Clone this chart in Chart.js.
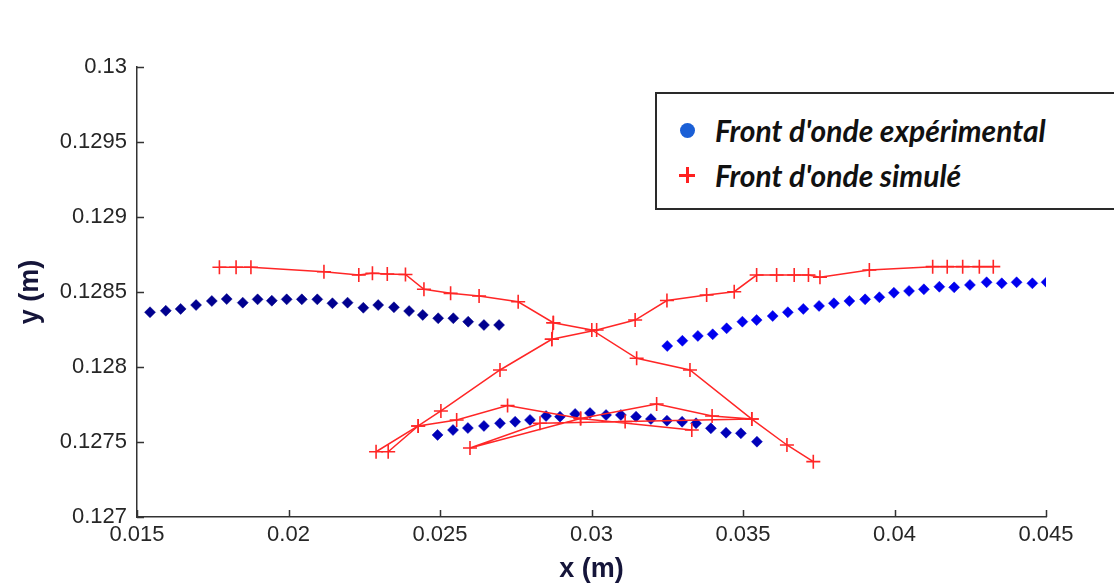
<!DOCTYPE html>
<html>
<head>
<meta charset="utf-8">
<script src="https://cdn.jsdelivr.net/npm/chart.js@4.4.1/dist/chart.umd.min.js"></script>
<style>
  html, body { margin: 0; padding: 0; background: #fff; overflow: hidden; }
  #wrap { position: relative; width: 1114px; height: 584px; }
  #legend {
    position: absolute; left: 655px; top: 92px; width: 480px; height: 114px;
    border: 2px solid #2a2a2a; background: #fff; box-sizing: content-box;
    font-family: Lato, "Open Sans", sans-serif; font-style: italic; font-weight: 700;
    font-size: 30px; color: #111;
  }
  #legend .item { position: absolute; left: 58px; white-space: nowrap; line-height: 34px; }
  #legend .dot { position: absolute; left: 23px; top: 29px; width: 15px; height: 15px; border-radius: 50%; background: #1a5fd6; }
  #legend .plus { position: absolute; left: 22px; top: 73px; width: 16px; height: 16px; }
  #legend .plus::before, #legend .plus::after { content: ''; position: absolute; background: #ff2020; }
  #legend .plus::before { left: 0; top: 7px; width: 16px; height: 2.5px; }
  #legend .plus::after { left: 7px; top: 0; width: 2.5px; height: 16px; }
</style>
</head>
<body>
<div id="wrap">
  <canvas id="chart" width="1114" height="584"></canvas>
  <div id="legend">
    <span class="dot"></span>
    <div class="item" style="top:19px">Front d'onde expérimental</div>
    <span class="plus"></span>
    <div class="item" style="top:64px">Front d'onde simulé</div>
  </div>
</div>
<script>
// axis ticks
const xTickValues = [0.015, 0.02, 0.025, 0.03, 0.035, 0.04, 0.045];
const xTickLabels = ['0.015', '0.02', '0.025', '0.03', '0.035', '0.04', '0.045'];
const yTickValues = [0.127, 0.1275, 0.128, 0.1285, 0.129, 0.1295, 0.13];
const yTickLabels = ['0.127', '0.1275', '0.128', '0.1285', '0.129', '0.1295', '0.13'];

// experimental front (blue diamonds)
const expLeftX = [0.01543, 0.01595, 0.01644, 0.01695, 0.01747, 0.01796, 0.01849, 0.01898, 0.01945, 0.01994, 0.02044, 0.02095,
                  0.02145, 0.02195, 0.02247, 0.02296, 0.02348, 0.02398, 0.02443, 0.02494, 0.02544, 0.02593, 0.02645, 0.02695];
const expLeftY = [0.128365, 0.128375, 0.128387, 0.128413, 0.128440, 0.128453, 0.128429, 0.128451, 0.128442, 0.128451, 0.128451, 0.128451,
                  0.128425, 0.128429, 0.128395, 0.128413, 0.128398, 0.128373, 0.128347, 0.128325, 0.128325, 0.128302, 0.128280, 0.128280];
const expRightX = [0.03250, 0.03300, 0.03351, 0.03400, 0.03446, 0.03498, 0.03545, 0.03598, 0.03648, 0.03699, 0.03751, 0.03800, 0.03851,
                   0.03903, 0.03950, 0.03998, 0.04048, 0.04097, 0.04148, 0.04197, 0.04249, 0.04304, 0.04354, 0.04403, 0.04455, 0.04502];
const expRightY = [0.128140, 0.128175, 0.128207, 0.128218, 0.128258, 0.128302, 0.128313, 0.128340, 0.128365, 0.128387, 0.128407, 0.128425, 0.128440,
                   0.128451, 0.128465, 0.128495, 0.128507, 0.128518, 0.128535, 0.128531, 0.128547, 0.128565, 0.128558, 0.128565, 0.128558, 0.128565];
const expBottomX = [0.02492, 0.02543, 0.02592, 0.02645, 0.02698, 0.02748, 0.02797, 0.02850, 0.02896, 0.02946, 0.02995,
                    0.03048, 0.03097, 0.03147, 0.03196, 0.03249, 0.03299, 0.03345, 0.03394, 0.03444, 0.03493, 0.03546];
const expBottomY = [0.127547, 0.127580, 0.127593, 0.127607, 0.127625, 0.127635, 0.127647, 0.127673, 0.127669, 0.127687, 0.127693,
                    0.127680, 0.127680, 0.127669, 0.127653, 0.127642, 0.127635, 0.127625, 0.127591, 0.127562, 0.127558, 0.127502];

// simulated front (red + with lines), drawn as several polylines
const simAX = [0.03732, 0.03645, 0.03529, 0.03325, 0.03149, 0.03001, 0.02874, 0.02758, 0.02629, 0.02535,
               0.02447, 0.02386, 0.02326, 0.02277, 0.02232, 0.02117, 0.01876, 0.01827, 0.01772];
const simAY = [0.127369, 0.127480, 0.127653, 0.127980, 0.128058, 0.128247, 0.128295, 0.128435, 0.128473, 0.128491,
               0.128518, 0.128617, 0.128620, 0.128625, 0.128613, 0.128635, 0.128665, 0.128665, 0.128665];
const simBX = [0.04326, 0.04280, 0.04225, 0.04174, 0.04126, 0.03917, 0.03754, 0.03716, 0.03669, 0.03611, 0.03545,
               0.03471, 0.03380, 0.03249, 0.03144, 0.03017, 0.02869, 0.02698, 0.02503, 0.02428, 0.02289];
const simBY = [0.128669, 0.128669, 0.128669, 0.128669, 0.128669, 0.128647, 0.128598, 0.128613, 0.128613, 0.128613, 0.128613,
               0.128502, 0.128480, 0.128443, 0.128313, 0.128247, 0.128185, 0.127980, 0.127707, 0.127607, 0.127435];
const simCX = [0.02874, 0.02869];
const simCY = [0.128295, 0.128185];
const simDX = [0.02329, 0.02428, 0.02555, 0.02723, 0.02964, 0.03215, 0.03398, 0.03529, 0.03111, 0.02830, 0.02599, 0.02964, 0.03331];
const simDY = [0.127435, 0.127607, 0.127647, 0.127743, 0.127657, 0.127753, 0.127673, 0.127653, 0.127637, 0.127625, 0.127460, 0.127657, 0.127580];

const pts = (xs, ys) => xs.map((x, i) => ({ x: x, y: ys[i] }));

const RED = '#ff2626';
const AXIS = '#333333';

function expSet(xs, ys, color) {
    return {
        data: pts(xs, ys),
        showLine: false,
        pointStyle: 'rectRot',
        pointRadius: 5.5,
        pointBackgroundColor: color,
        pointBorderColor: color,
        pointBorderWidth: 0.5,
        order: 2
    };
}

function simSet(xs, ys) {
    return {
        data: pts(xs, ys),
        showLine: true,
        borderColor: RED,
        borderWidth: 1.5,
        tension: 0,
        pointStyle: 'cross',
        pointRadius: 7,
        pointBorderColor: RED,
        pointBorderWidth: 1.6,
        order: 1
    };
}

const inwardTicks = {
    id: 'inwardTicks',
    afterDraw(chart) {
        const { ctx, chartArea, scales } = chart;
        ctx.save();
        ctx.strokeStyle = AXIS;
        ctx.lineWidth = 1.5;
        ctx.beginPath();
        yTickValues.forEach(v => {
            const y = Math.round(scales.y.getPixelForValue(v)) + 0.5;
            ctx.moveTo(chartArea.left, y);
            ctx.lineTo(chartArea.left + 7, y);
        });
        xTickValues.forEach(v => {
            const x = Math.round(scales.x.getPixelForValue(v)) + 0.5;
            ctx.moveTo(x, chartArea.bottom);
            ctx.lineTo(x, chartArea.bottom - 7);
        });
        ctx.stroke();
        ctx.restore();
    }
};

const tickFont = { family: '"Liberation Sans", Arial, sans-serif', size: 22 };
const titleFont = { family: '"Liberation Sans", Arial, sans-serif', size: 27, weight: 'bold', lineHeight: 1 };

new Chart(document.getElementById('chart'), {
    type: 'scatter',
    data: {
        datasets: [
            expSet(expLeftX, expLeftY, '#00008f'),
            expSet(expRightX, expRightY, '#0000ee'),
            expSet(expBottomX, expBottomY, '#0000b8'),
            simSet(simAX, simAY),
            simSet(simBX, simBY),
            simSet(simCX, simCY),
            simSet(simDX, simDY)
        ]
    },
    options: {
        responsive: false,
        animation: false,
        events: [],
        layout: { padding: { left: 0, top: 67, right: 68, bottom: 0 } },
        plugins: { legend: { display: false }, tooltip: { enabled: false } },
        scales: {
            x: {
                type: 'linear',
                min: 0.015,
                max: 0.045,
                afterBuildTicks: scale => { scale.ticks = xTickValues.map(v => ({ value: v })); },
                afterFit: scale => { scale.height = 67; },
                grid: { drawOnChartArea: false, drawTicks: false },
                border: { display: true, color: AXIS, width: 1.5 },
                ticks: {
                    padding: 5,
                    color: '#262626',
                    font: tickFont,
                    maxRotation: 0,
                    autoSkip: false,
                    callback: (v, i) => xTickLabels[i]
                },
                title: { display: true, text: 'x (m)', color: '#15153a', font: titleFont, padding: { top: 0, bottom: 1 } }
            },
            y: {
                type: 'linear',
                min: 0.127,
                max: 0.13,
                afterBuildTicks: scale => { scale.ticks = yTickValues.map(v => ({ value: v })); },
                afterFit: scale => { scale.width = 137; },
                grid: { drawOnChartArea: false, drawTicks: false },
                border: { display: true, color: AXIS, width: 1.5 },
                ticks: {
                    padding: 10,
                    color: '#262626',
                    font: tickFont,
                    autoSkip: false,
                    callback: (v, i) => yTickLabels[i]
                },
                title: { display: true, text: 'y (m)', color: '#15153a', font: titleFont, padding: { top: 17, bottom: 0 } }
            }
        }
    },
    plugins: [inwardTicks]
});
</script>
</body>
</html>
